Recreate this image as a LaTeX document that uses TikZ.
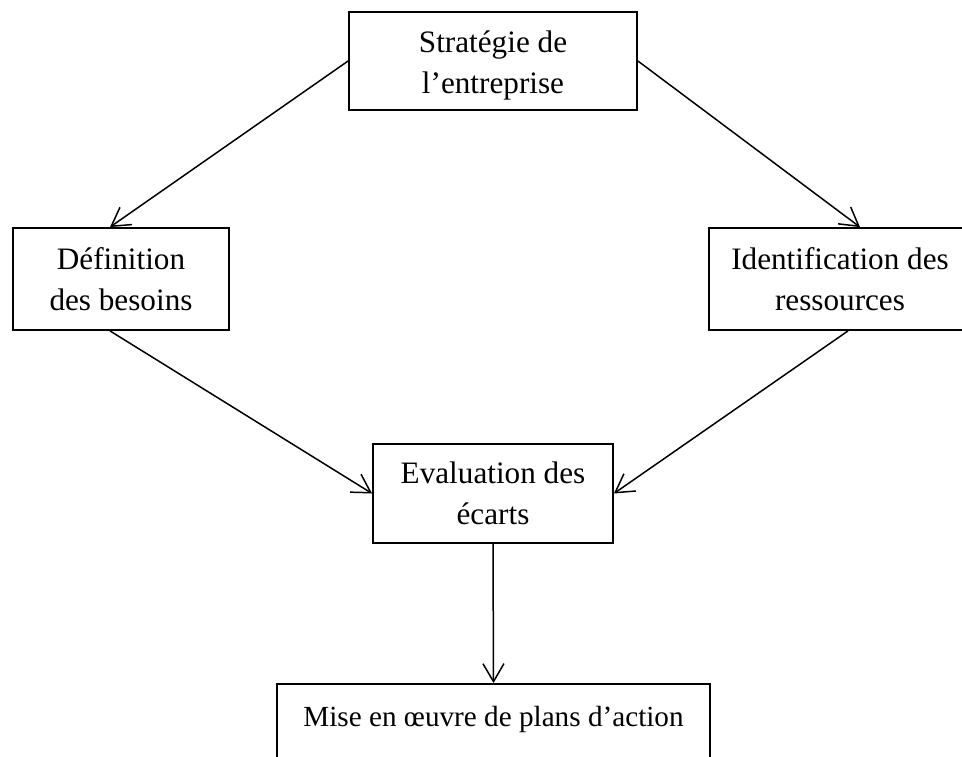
\documentclass[tikz,border=0pt]{standalone}
\usepackage{fontspec}
\setmainfont{Liberation Serif}
\usetikzlibrary{arrows.meta}
\tikzset{
	box node/.style={rectangle,draw,line width=0.9pt,align=center,inner sep=0pt,font=\fontsize{15.6}{20.5}\selectfont}
}
\begin{document}
\begin{tikzpicture}[->,>={Straight Barb[length=9pt,width=10.5pt]}
				    ,line width=0.75pt
				    ,x=0.5pt,y=-0.5pt
					]
				    \useasboundingbox (0,0) rectangle (962,756);
				    \clip (0,0) rectangle (962,756);
				    \node [box node,minimum width=144pt,minimum height=49pt] (strat) at (493,61) {\rule{0pt}{15pt}Stratégie de\\l’entreprise};
				    \node [box node,minimum width=108pt,minimum height=51pt] (def) at (121,279) {Définition\\des besoins};
				    \node [box node,minimum width=131pt,minimum height=51pt] (res) at (840,279) {Identification des\\ressources};
				    \node [box node,minimum width=120pt,minimum height=49.5pt] (eval) at (493,493.5) {Evaluation des\\écarts};
				    \node [box node,minimum width=216.5pt,minimum height=53pt,font=\fontsize{14.6}{20.5}\selectfont] (plan) at (493.5,737) {Mise en œuvre de plans d’action\\\mbox{}};
				    \draw (strat.west) -- ([xshift=-5.5pt]def.north);
				    \draw (strat.east) -- ([xshift=10pt]res.north);
				    \draw ([xshift=-5.5pt]def.south) -- (eval.west);
				    \draw ([xshift=4pt]res.south) -- (eval.east);
				    \draw (eval.south) -- (plan.north);
				  \end{tikzpicture}
\end{document}
